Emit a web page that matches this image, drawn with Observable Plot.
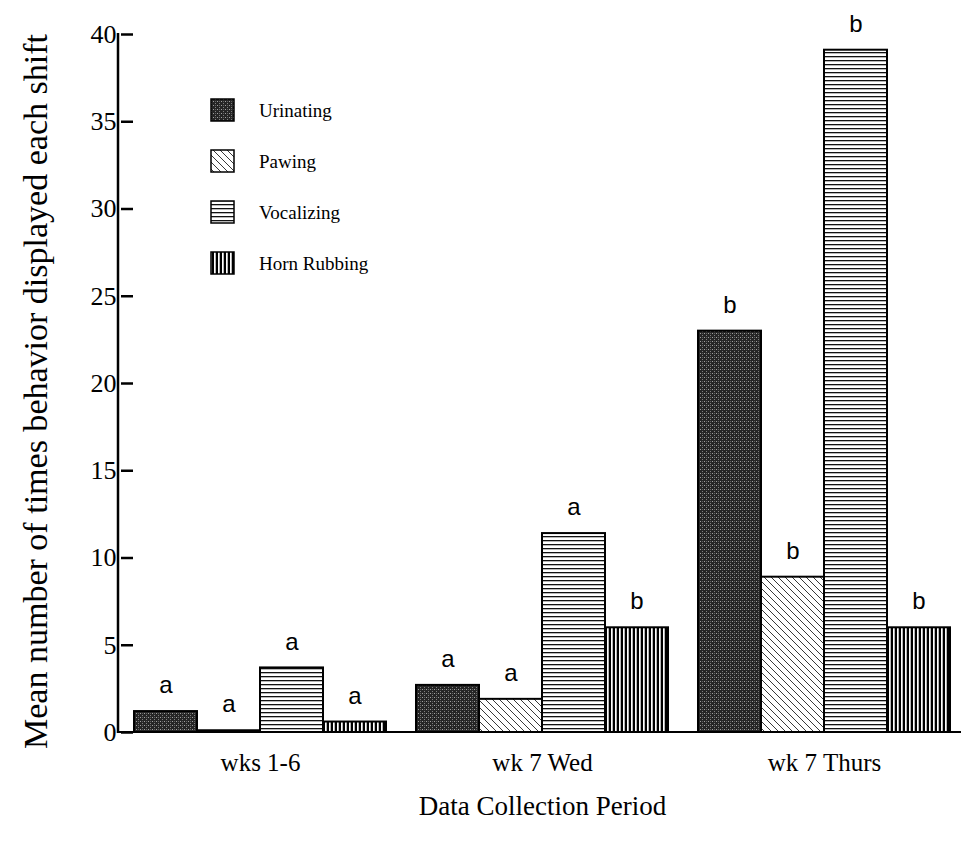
<!DOCTYPE html>
<html><head><meta charset="utf-8">
<script src="https://cdn.jsdelivr.net/npm/d3@7"></script>
<script src="https://cdn.jsdelivr.net/npm/@observablehq/plot@0.6"></script>
<style>
body{margin:0;background:#fff}
#chart{position:relative;width:961px;height:847px}
</style>
</head><body><div id="chart"></div>
<script>
// ---- data ----
const periods = ["wks 1-6", "wk 7 Wed", "wk 7 Thurs"];
const behaviors = ["Urinating", "Pawing", "Vocalizing", "Horn Rubbing"];
const urinating   = [1.2, 2.7, 23.0];
const pawing      = [0.1, 1.9, 8.9];
const vocalizing  = [3.7, 11.4, 39.1];
const hornRubbing = [0.6, 6.0, 6.0];
const urinatingSig   = ["a", "a", "b"];
const pawingSig      = ["a", "a", "b"];
const vocalizingSig  = ["a", "a", "b"];
const hornRubbingSig = ["a", "b", "b"];
const yTicks = [0, 5, 10, 15, 20, 25, 30, 35, 40];
const yLabel = "Mean number of times behavior displayed each shift";
const xLabel = "Data Collection Period";

const SERIF = "'Liberation Serif', 'Times New Roman', serif";
const series = [urinating, pawing, vocalizing, hornRubbing];
const sigs = [urinatingSig, pawingSig, vocalizingSig, hornRubbingSig];
const rows = [];
periods.forEach((p, i) => behaviors.forEach((b, j) => rows.push({period: p, behavior: b, value: series[j][i], sig: sigs[j][i]})));
const patternIds = ["pat-urin", "pat-paw", "pat-voc", "pat-horn"];
const patternUrls = patternIds.map(id => `url(#${id})`);

const plot = Plot.plot({
  width: 961,
  height: 847,
  marginLeft: 118,
  marginRight: 0,
  marginTop: 34,
  marginBottom: 115,
  style: {fontFamily: SERIF, background: "white", color: "black", overflow: "visible"},
  fx: {domain: periods, paddingInner: 0.0993, paddingOuter: 0.0443, align: 0.6, label: null},
  x: {domain: behaviors, padding: 0, axis: null},
  y: {domain: [0, 40]},
  color: {type: "ordinal", domain: behaviors, range: patternUrls},
  marks: [
    Plot.barY(rows, {fx: "period", x: "behavior", y: "value", fill: "behavior", stroke: "black", strokeWidth: 2}),
    Plot.text(rows, {fx: "period", x: "behavior", y: "value", text: "sig", dy: -26,
      fontFamily: "'Liberation Sans', Arial, sans-serif", fontSize: 24, fill: "black"}),
    Plot.axisY({ticks: yTicks, tickSize: 12, tickPadding: 5, fontSize: 26, fontFamily: SERIF, strokeWidth: 2.5,
      label: yLabel, labelAnchor: "center", labelArrow: "none", labelOffset: 110}),
    Plot.axisFx({anchor: "bottom", tickSize: 0, tickPadding: 21, fontSize: 25, fontFamily: SERIF,
      label: xLabel, labelAnchor: "center", labelOffset: 82})
  ]
});

const svg = d3.select(plot);
const defs = svg.insert("defs", ":first-child");
// Urinating: dark stippled
const p1 = defs.append("pattern").attr("id", patternIds[0]).attr("patternUnits", "userSpaceOnUse").attr("width", 4).attr("height", 4);
p1.append("rect").attr("width", 4).attr("height", 4).attr("fill", "#262626");
p1.append("rect").attr("x", 1).attr("y", 1).attr("width", 1).attr("height", 1).attr("fill", "#a0a0a0");
p1.append("rect").attr("x", 3).attr("y", 3).attr("width", 1).attr("height", 1).attr("fill", "#808080");
p1.append("rect").attr("x", 3).attr("y", 1).attr("width", 1).attr("height", 1).attr("fill", "#606060");
// Pawing: diagonal hatch
const p2 = defs.append("pattern").attr("id", patternIds[1]).attr("patternUnits", "userSpaceOnUse").attr("width", 7).attr("height", 7);
p2.append("rect").attr("width", 7).attr("height", 7).attr("fill", "white");
p2.append("path").attr("d", "M-1,-1L8,8M-1,6L1,8M6,-1L8,1").attr("stroke", "#222").attr("stroke-width", 0.9);
// Vocalizing: horizontal lines
const p3 = defs.append("pattern").attr("id", patternIds[2]).attr("patternUnits", "userSpaceOnUse").attr("width", 4).attr("height", 4);
p3.append("rect").attr("width", 4).attr("height", 4).attr("fill", "white");
p3.append("rect").attr("y", 0).attr("width", 4).attr("height", 1.3).attr("fill", "#111");
// Horn rubbing: vertical lines
const p4 = defs.append("pattern").attr("id", patternIds[3]).attr("patternUnits", "userSpaceOnUse").attr("width", 4).attr("height", 4);
p4.append("rect").attr("width", 4).attr("height", 4).attr("fill", "white");
p4.append("rect").attr("x", 0).attr("width", 2).attr("height", 4).attr("fill", "#000");
p4.append("rect").attr("x", 3).attr("width", 0.6).attr("height", 4).attr("fill", "#888");

const ys = plot.scale("y");
const y0 = ys.apply(0), y40 = ys.apply(40);
const left = 118;
svg.append("line").attr("x1", left).attr("x2", left).attr("y1", y0 + 1).attr("y2", y40 - 1)
  .attr("stroke", "black").attr("stroke-width", 2.5);
svg.append("line").attr("x1", left).attr("x2", 961).attr("y1", y0).attr("y2", y0)
  .attr("stroke", "black").attr("stroke-width", 2);

// axis titles: size / length as in the reference
svg.selectAll("text").filter(function() { return this.textContent === yLabel; })
  .attr("font-size", 33).attr("x", -8).attr("textLength", 715).attr("lengthAdjust", "spacingAndGlyphs");
svg.selectAll("text").filter(function() { return this.textContent === xLabel; })
  .attr("font-size", 27);

// legend inside the frame
const lg = svg.append("g").attr("font-family", SERIF).attr("font-size", 19).attr("text-anchor", "start");
behaviors.forEach((b, i) => {
  const cy = 110 + 51 * i;
  lg.append("rect").attr("x", 211).attr("y", cy - 11).attr("width", 23).attr("height", 22)
    .attr("fill", patternUrls[i]).attr("stroke", "black").attr("stroke-width", 1.5);
  lg.append("text").attr("x", 259).attr("y", cy).attr("dy", "0.35em").text(b);
});

document.getElementById("chart").appendChild(plot);
</script>
</body></html>
